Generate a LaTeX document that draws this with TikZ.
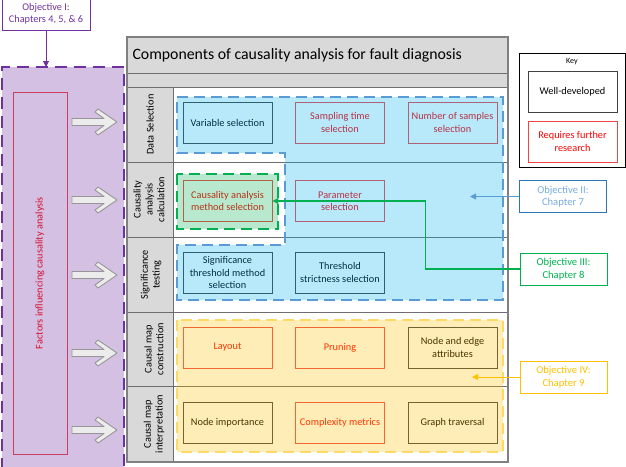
\documentclass[tikz,border=0pt]{standalone}
\usepackage{fontspec}
\setmainfont{Carlito}
\usetikzlibrary{arrows.meta}
\definecolor{bandC}{RGB}{217,217,217}
\definecolor{gridC}{RGB}{110,110,110}
\definecolor{frameC}{RGB}{128,128,128}
\definecolor{darkC}{RGB}{64,64,64}
\definecolor{redT}{RGB}{255,0,0}
\definecolor{redB}{RGB}{240,70,70}
\definecolor{bluF}{RGB}{0,176,240}
\definecolor{bluD}{RGB}{91,155,213}
\definecolor{bluT}{RGB}{120,170,225}
\definecolor{bluO}{RGB}{46,117,182}
\definecolor{yelF}{RGB}{255,192,0}
\definecolor{yelD}{RGB}{255,217,102}
\definecolor{purF}{RGB}{112,48,160}
\definecolor{grnF}{RGB}{0,176,80}
\definecolor{arrG}{RGB}{150,150,150}
\definecolor{arrF}{RGB}{236,236,236}
\tikzset{
  comp/.style={draw=darkC, line width=0.9pt, minimum width=89pt, minimum height=41pt, align=center, inner sep=1pt, font=\fontsize{10.3}{12.5}\selectfont, text=black},
  compred/.style={comp, draw=redB, text=redT},
  rowlbl/.style={rotate=90, align=center, font=\fontsize{10.3}{11.8}\selectfont},
  objbox/.style={draw, line width=1pt, minimum width=87pt, minimum height=32pt, align=center, font=\fontsize{10.6}{12.5}\selectfont, inner sep=1pt},
  tint/.style={fill opacity=0.28, draw opacity=1, dash pattern=on 11pt off 6pt, line width=1.1pt},
  bigarrow/.pic={\draw[arrG, fill=arrF, line width=0.9pt, line join=round] (-45,-3.5) -- (-13,-3.5) -- (-22,-10) -- (-19,-13) -- (0,0) -- (-19,13) -- (-22,10) -- (-13,3.5) -- (-45,3.5) -- cycle;},
  conn/.style={line width=1pt, -{Triangle[length=6pt,width=6pt]}},
}
\begin{document}
\begin{tikzpicture}[x=1pt,y=-1pt]
\useasboundingbox (0,0) rectangle (626,466);
% main frame fills
\fill[bandC] (127,37) rectangle (508,87);
\fill[bandC] (127,87) rectangle (173,462);
\draw[gridC, line width=0.8pt] (127,73) -- (508,73);
\foreach \yy in {87,162,237,312,386} {\draw[gridC, line width=0.8pt] (127,\yy) -- (508,\yy);}
\draw[gridC, line width=0.8pt] (173,87) -- (173,462);
\node[anchor=west, font=\fontsize{15.8}{18}\selectfont] (title) at (129,55) {Components of causality analysis for fault diagnosis};
% row labels
\node[rowlbl] (l1) at (150,124.5) {Data Selection};
\node[rowlbl] (l2) at (149,199.5) {Causality\\analysis\\calculation};
\node[rowlbl] (l3) at (151,274.5) {Significance\\testing};
\node[rowlbl] (l4) at (154,349) {Causal map\\construction};
\node[rowlbl] (l5) at (154,424) {Causal map\\interpretation};
% components
\node[comp] (vs) at (227.5,122.5) {Variable selection};
\node[compred] (st) at (340,122.5) {Sampling time\\selection};
\node[compred] (ns) at (452.5,122.5) {Number of samples\\selection};
\node[compred] (cam) at (227.5,201) {Causality analysis\\method selection};
\node[compred] (ps) at (340,201) {Parameter\\selection};
\node[comp] (stm) at (227.5,272.5) {Significance\\threshold method\\selection};
\node[comp] (tss) at (340,272.5) {Threshold\\strictness selection};
\node[compred] (lay) at (227.5,347.5) {Layout};
\node[compred] (pru) at (340,347.5) {Pruning};
\node[comp] (nea) at (452.5,347.5) {Node and edge\\attributes};
\node[comp] (ni) at (227.5,422.5) {Node importance};
\node[compred] (cm) at (340,422.5) {Complexity metrics};
\node[comp] (gt) at (452.5,422.5) {Graph traversal};
% tinted regions
\filldraw[tint, fill=bluF, draw=bluD] (177,97) -- (503,97) -- (503,300) -- (177,300) -- (177,245) -- (285,245) -- (285,153) -- (177,153) -- cycle;
\filldraw[tint, fill=yelF, draw=yelD] (177,320) rectangle (503,452);
\filldraw[tint, fill=grnF, draw=grnF, line width=1.4pt] (177,174) rectangle (278,229);
\draw[frameC, line width=1.3pt] (127,37) rectangle (508,462);
% factors region
\node[draw=redB, line width=0.8pt, rotate=90, minimum width=362pt, minimum height=54pt, text=redT, font=\fontsize{10.3}{12.5}\selectfont] (fac) at (40,273) {Factors influencing causality analysis};
\fill[purF, fill opacity=0.3] (2,67) rectangle (124,470);
\draw[purF, line width=1.6pt, dash pattern=on 12pt off 7pt] (2,470) -- (2,67) -- (124,67) -- (124,470);
\coordinate (ptop) at (46,67);
\foreach \yy in {122,200,275,353,430} {\pic at (117,\yy) {bigarrow};}
\node[objbox, draw=purF, text=purF, minimum width=88pt, font=\fontsize{10.3}{12.5}\selectfont] (o1) at (46,14) {Objective I:\\Chapters 4, 5, \& 6};
\draw[purF, conn] (o1.south) -- (ptop);
% key
\draw[black, line width=0.9pt] (519,53) rectangle (625,167);
\node[font=\fontsize{8}{9}\selectfont] (key) at (572,62) {Key};
\node[comp] (wd) at (572.5,91.5) {Well-developed};
\node[compred] (rfr) at (572.5,141.5) {Requires further\\research};
% objectives
\node[objbox, draw=bluO, text=bluT] (o2) at (563,196.5) {Objective II:\\Chapter 7};
\node[objbox, draw=grnF, text=grnF] (o3) at (563.5,269) {Objective III:\\Chapter 8};
\node[objbox, draw=yelF, text=yelF] (o4) at (563.5,377) {Objective IV:\\Chapter 9};
\coordinate (b2) at (470,196.5);
\coordinate (y4) at (472,377);
\draw[bluD, conn] (o2.west) -- (b2);
\draw[yelF, conn] (o4.west) -- (y4);
\draw[grnF, conn, line width=1.3pt] (o3.west) -- ++(-94,0) |- (cam.east);
\end{tikzpicture}
\end{document}
